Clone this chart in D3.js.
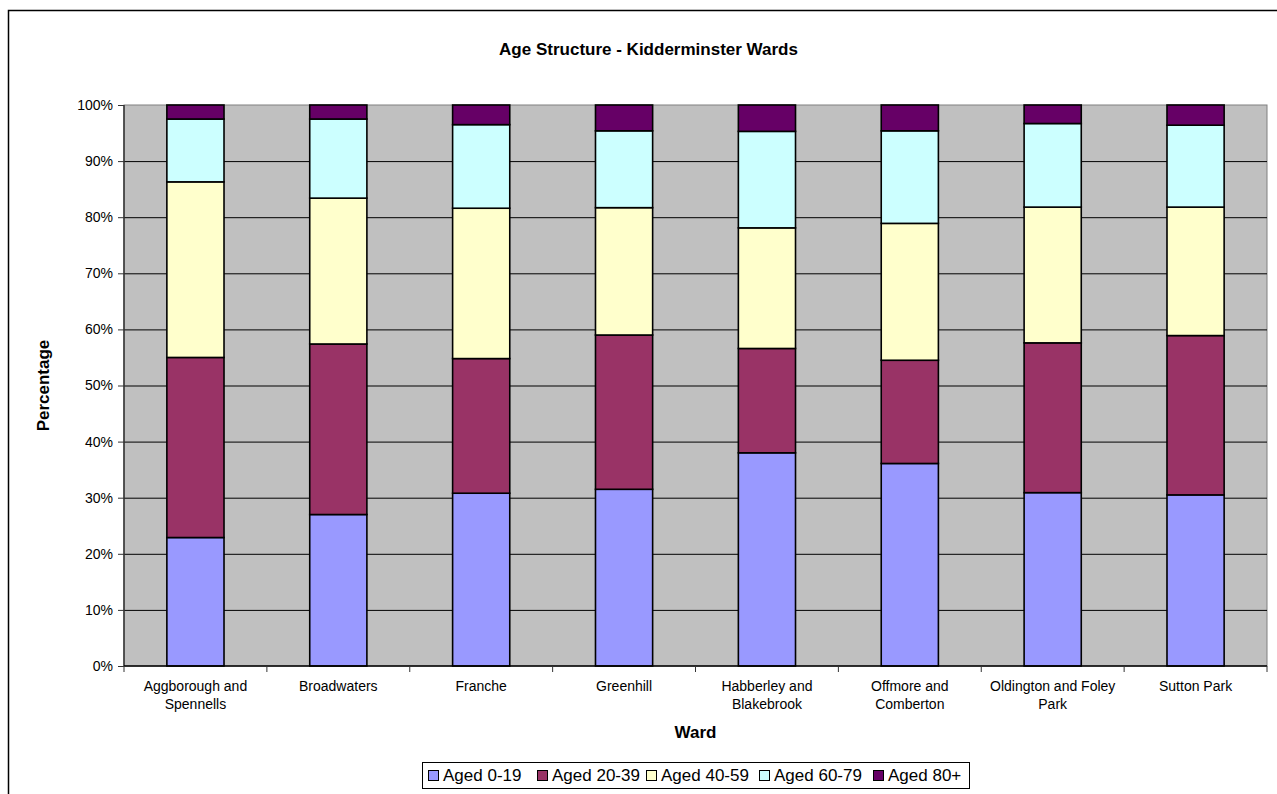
<!DOCTYPE html>
<html>
<head>
<meta charset="utf-8">
<script src="https://cdn.jsdelivr.net/npm/d3@7"></script>
<style>
    body { margin: 0; background: #ffffff; }
    text { font-family: Arial, "Liberation Sans", sans-serif; }
</style>
</head>
<body>
<svg id="ageChart" width="1277" height="794"></svg>
<script>
// wards (x categories), two lines each as in the original labels
var wards = ["Aggborough and Spennells", "Broadwaters", "Franche", "Greenhill",
    "Habberley and Blakebrook", "Offmore and Comberton", "Oldington and Foley Park", "Sutton Park"];
var wardLines = [["Aggborough and", "Spennells"], ["Broadwaters"], ["Franche"], ["Greenhill"],
    ["Habberley and", "Blakebrook"], ["Offmore and", "Comberton"], ["Oldington and Foley", "Park"], ["Sutton Park"]];

// age groups (series) and their percentages, per ward
var ageGroups = ["Aged 0-19", "Aged 20-39", "Aged 40-59", "Aged 60-79", "Aged 80+"];
var aged0to19  = [22.9, 27.0, 30.8, 31.5, 38.0, 36.1, 30.9, 30.5];
var aged20to39 = [32.1, 30.4, 24.0, 27.5, 18.6, 18.4, 26.7, 28.4];
var aged40to59 = [31.3, 26.0, 26.8, 22.7, 21.5, 24.4, 24.2, 22.9];
var aged60to79 = [11.2, 14.1, 14.9, 13.7, 17.2, 16.5, 14.9, 14.6];
var aged80plus = [2.5, 2.5, 3.5, 4.6, 4.7, 4.6, 3.3, 3.6];

var yTicks = [0, 0.1, 0.2, 0.3, 0.4, 0.5, 0.6, 0.7, 0.8, 0.9, 1.0];
var colors = ["#9999FF", "#993366", "#FFFFCC", "#CCFFFF", "#660066"];

var svg = d3.select("#ageChart");

// outer chart border (runs off the right and bottom of the picture)
svg.append("rect")
    .attr("x", 8.5).attr("y", 10.5)
    .attr("width", 1290).attr("height", 800)
    .attr("fill", "#ffffff")
    .attr("stroke", "#000000")
    .attr("stroke-width", 1.5);

var margin = {"left": 124, "top": 105};
var width = 1267 - 124;
var height = 666 - 105;

var g = svg.append("g")
    .attr("transform", "translate(" + margin.left + "," + margin.top + ")");

// scales
var x = d3.scaleBand()
    .domain(wards)
    .range([0, width])
    .paddingInner(0.6)
    .paddingOuter(0.3);

var xCat = d3.scaleBand()
    .domain(wards)
    .range([0, width]);

var y = d3.scaleLinear()
    .domain([0, 1])
    .range([height, 0]);

// plot background
g.append("rect")
    .attr("width", width)
    .attr("height", height)
    .attr("fill", "#C0C0C0")
    .attr("stroke", "#808080")
    .attr("stroke-width", 1);

// horizontal gridlines
g.append("g")
    .attr("class", "grid")
    .call(d3.axisLeft(y).tickValues(yTicks.slice(1, 10)).tickSize(-width).tickFormat(""))
    .call(s => s.select(".domain").remove())
    .call(s => s.selectAll("line").attr("stroke", "#000000").attr("stroke-width", 1));

// stack the series into a percentage table
var table = wards.map(function(w, i) {
    var row = {"ward": w};
    var vals = [aged0to19[i], aged20to39[i], aged40to59[i], aged60to79[i], aged80plus[i]];
    var total = d3.sum(vals);
    ageGroups.forEach((a, j) => row[a] = vals[j] / total);
    return row;
});
var stacked = d3.stack().keys(ageGroups)(table);

g.selectAll(".series")
    .data(stacked).enter()
    .append("g")
    .attr("class", "series")
    .attr("fill", (d, i) => colors[i])
    .selectAll("rect")
    .data(d => d).enter()
    .append("rect")
    .attr("x", d => x(d.data.ward))
    .attr("width", x.bandwidth())
    .attr("y", d => y(d[1]))
    .attr("height", d => y(d[0]) - y(d[1]))
    .attr("stroke", "#000000")
    .attr("stroke-width", 1.6);

// y axis
var gy = g.append("g")
    .call(d3.axisLeft(y).tickValues(yTicks).tickSize(6).tickPadding(5).tickFormat(d3.format(".0%")));
gy.select(".domain").attr("stroke", "#333333").attr("stroke-width", 1.5).attr("d", "M0," + height + "V0");
gy.selectAll("line").attr("stroke", "#333333");
gy.selectAll("text").attr("font-size", "14px").attr("fill", "#000000");

// x axis: ticks at category boundaries
var gx = g.append("g")
    .attr("transform", "translate(0," + height + ")");
gx.append("line")
    .attr("x1", 0).attr("x2", width)
    .attr("stroke", "#000000").attr("stroke-width", 1.5);
gx.selectAll(".xtick")
    .data(wards.concat(["end"])).enter()
    .append("line")
    .attr("class", "xtick")
    .attr("x1", (d, i) => i < wards.length ? xCat(d) : width)
    .attr("x2", (d, i) => i < wards.length ? xCat(d) : width)
    .attr("y1", 0).attr("y2", 6)
    .attr("stroke", "#333333");

gx.selectAll(".xlabel")
    .data(wards).enter()
    .append("text")
    .attr("class", "xlabel")
    .attr("text-anchor", "middle")
    .attr("font-size", "14px")
    .attr("y", 25)
    .selectAll("tspan")
    .data((d, i) => wardLines[i].map(t => ({"t": t, "w": d}))).enter()
    .append("tspan")
    .attr("x", d => xCat(d.w) + xCat.bandwidth() / 2)
    .attr("dy", (d, i) => i === 0 ? 0 : 17.5)
    .text(d => d.t);

// titles
svg.append("text")
    .attr("x", 648.5).attr("y", 55)
    .attr("text-anchor", "middle")
    .attr("font-size", "17px")
    .attr("font-weight", "bold")
    .text("Age Structure - Kidderminster Wards");

svg.append("text")
    .attr("x", margin.left + width / 2).attr("y", 738)
    .attr("text-anchor", "middle")
    .attr("font-size", "17px")
    .attr("font-weight", "bold")
    .text("Ward");

svg.append("text")
    .attr("transform", "translate(49," + (margin.top + height / 2) + ") rotate(-90)")
    .attr("text-anchor", "middle")
    .attr("font-size", "17px")
    .attr("font-weight", "bold")
    .text("Percentage");

// legend
var legendX = [428, 537, 646, 759, 873];
var legend = svg.append("g");
legend.append("rect")
    .attr("x", 422.5).attr("y", 762.5)
    .attr("width", 547).attr("height", 26)
    .attr("fill", "#ffffff")
    .attr("stroke", "#000000");

legend.selectAll(".item")
    .data(ageGroups).enter()
    .append("g")
    .attr("class", "item")
    .attr("transform", (d, i) => "translate(" + legendX[i] + ",0)")
    .each(function(d, i) {
        var item = d3.select(this);
        item.append("rect")
            .attr("x", 0.5).attr("y", 770.5)
            .attr("width", 10).attr("height", 10)
            .attr("fill", colors[i])
            .attr("stroke", "#000000");
        item.append("text")
            .attr("x", 15).attr("y", 781)
            .attr("font-size", "17px")
            .text(d);
    });
</script>
</body>
</html>
